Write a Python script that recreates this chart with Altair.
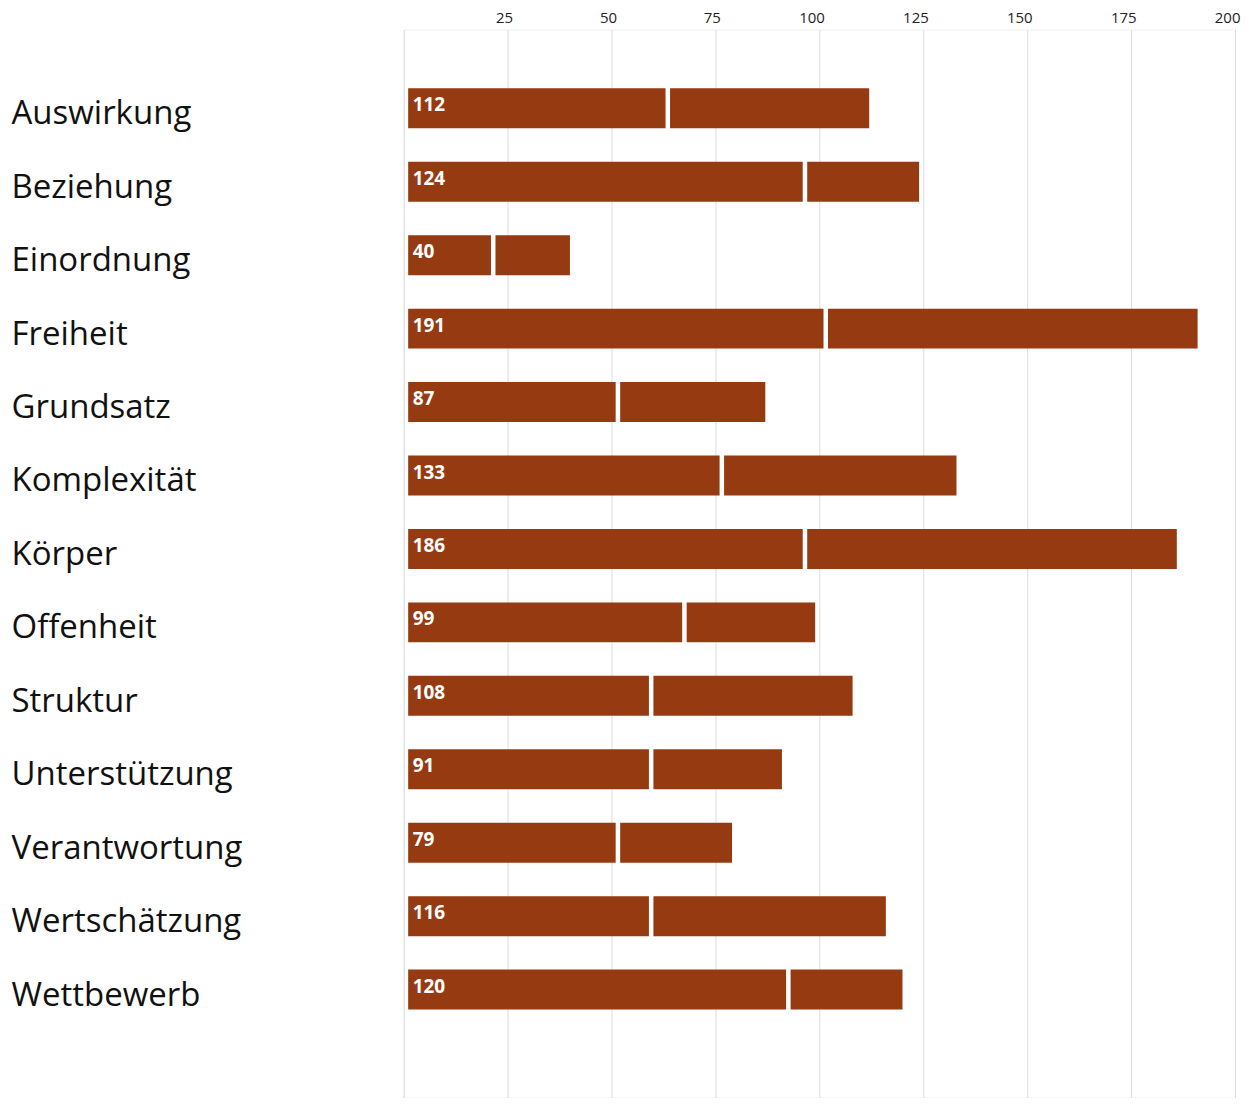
import altair as alt
import pandas as pd

categories = ["Auswirkung", "Beziehung", "Einordnung", "Freiheit", "Grundsatz",
              "Komplexität", "Körper", "Offenheit", "Struktur", "Unterstützung",
              "Verantwortung", "Wertschätzung", "Wettbewerb"]
first_part = [63, 96, 21, 101, 51, 76, 96, 67, 59, 59, 51, 59, 92]
totals = [112, 124, 40, 191, 87, 133, 186, 99, 108, 91, 79, 116, 120]
x_ticks = [0, 25, 50, 75, 100, 125, 150, 175, 200]

rows = []
for c, a, t in zip(categories, first_part, totals):
    rows.append({"cat": c, "start": 0, "end": a, "total": t, "seg": 1})
    rows.append({"cat": c, "start": a, "end": t, "total": t, "seg": 2})
df = pd.DataFrame(rows)
df_tot = pd.DataFrame({"cat": categories, "total": totals, "zero": [0] * len(totals)})

FONT = "Open Sans"
BAR = "#963A12"

yscale = alt.Scale(domain=categories, paddingInner=0.456, paddingOuter=1, align=0.401)
xscale = alt.Scale(domain=[0, 200], nice=False)

bars = alt.Chart(df).mark_bar(color=BAR, xOffset=4.5, x2Offset=0).encode(
    y=alt.Y("cat:N", scale=yscale, sort=categories, title=None,
            axis=alt.Axis(labelAlign="left", labelPadding=393, ticks=False, domain=False,
                          labelFontSize=33, labelFont=FONT, labelColor="#111",
                          labelLimit=400, grid=False, labelBaseline="middle", labelOffset=6)),
    x=alt.X("start:Q", scale=xscale, title=None,
            axis=alt.Axis(orient="top", values=x_ticks, ticks=False, domain=False,
                          labelExpr="datum.value == 0 ? '' : datum.label",
                          labelFont=FONT, labelFontSize=15, labelColor="#222",
                          labelAlign="right", labelOffset=5, labelPadding=4,
                          labelFlush=False, grid=True, gridColor="#dcdcdc", gridWidth=1)),
    x2="end:Q",
)

labels = alt.Chart(df_tot).mark_text(
    align="left", baseline="middle", dx=9, dy=-3, color="white",
    font=FONT, fontWeight="bold", fontSize=19
).encode(
    y=alt.Y("cat:N", scale=yscale, sort=categories),
    x=alt.X("zero:Q", scale=xscale),
    text="total:Q",
)

chart = (bars + labels).properties(
    width=832, height=1069,
    padding={"left": 3, "top": 2, "right": 2, "bottom": 0},
).configure_view(stroke="#f2f2f2")

chart.save("out.html", embed_options={"renderer": "svg", "actions": False})
